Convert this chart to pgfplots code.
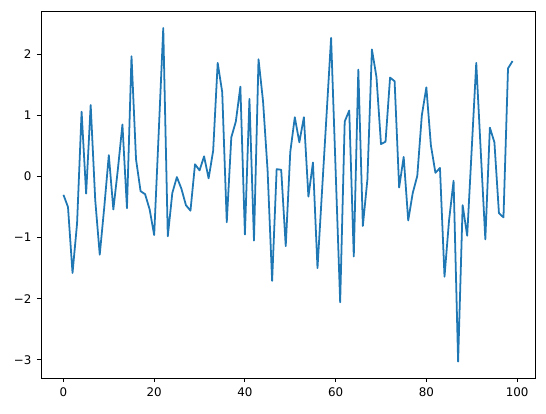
\documentclass[border=0pt]{standalone}
\usepackage{fontspec}
\setmainfont{DejaVu Sans}
\usepackage{pgfplots}
\usepackage{pgfplotstable}
\pgfplotsset{compat=1.18}
\definecolor{mplblue}{HTML}{1F77B4}
\pgfplotstableread{
x y
0 -0.30
1 -0.50
2 -1.58
3 -0.77
4 1.06
5 -0.28
6 1.17
7 -0.38
8 -1.28
9 -0.50
10 0.35
11 -0.54
12 0.12
13 0.85
14 -0.52
15 1.97
16 0.28
17 -0.24
18 -0.29
19 -0.54
20 -0.96
21 0.72
22 2.43
23 -0.98
24 -0.27
25 -0.01
26 -0.20
27 -0.47
28 -0.56
29 0.20
30 0.10
31 0.33
32 -0.03
33 0.42
34 1.86
35 1.38
36 -0.75
37 0.64
38 0.90
39 1.47
40 -0.95
41 1.27
42 -1.05
43 1.92
44 1.23
45 0.10
46 -1.71
47 0.12
48 0.11
49 -1.14
50 0.40
51 0.97
52 0.56
53 0.97
54 -0.33
55 0.23
56 -1.50
57 -0.24
58 1.01
59 2.27
60 0.10
61 -2.06
62 0.90
63 1.08
64 -1.31
65 1.75
66 -0.81
67 -0.05
68 2.08
69 1.63
70 0.53
71 0.57
72 1.62
73 1.56
74 -0.18
75 0.32
76 -0.72
77 -0.27
78 0.01
79 1.00
80 1.46
81 0.51
82 0.06
83 0.14
84 -1.64
85 -0.72
86 -0.07
87 -3.03
88 -0.47
89 -0.97
90 0.45
91 1.86
92 0.40
93 -1.03
94 0.80
95 0.56
96 -0.60
97 -0.67
98 1.77
99 1.89
}\datatable
\begin{document}
\begin{tikzpicture}
\begin{axis}[
  name=ax,
  scale only axis,
  width=370.5pt, height=275.25pt,
  xmin=-4.95, xmax=103.95,
  ymin=-3.30, ymax=2.71,
  axis line style={line width=0.71pt, black},
  every tick/.style={line width=0.71pt, black},
  tick align=outside,
  major tick length=3.1pt,
  xtick={0,20,40,60,80,100},
  xticklabels={0,20,40,60,80,100},
  ytick={-3,-2,-1,0,1,2},
  yticklabels={−3,−2,−1,0,1,2},
  xtick pos=bottom, ytick pos=left,
  tick label style={font=\fontsize{8.9}{10.7}\selectfont},
  xticklabel style={yshift=-0.5pt},
  yticklabel style={xshift=-0.5pt},
  /pgf/number format/assume math mode=true,
]
\addplot[mplblue, line width=1.33pt, line join=round] table[x=x,y=y] {\datatable};
\end{axis}
\pgfresetboundingbox
\path ([xshift=-30.75pt,yshift=-26.25pt]ax.south west) rectangle ([xshift=8.25pt,yshift=8.25pt]ax.north east);
\end{tikzpicture}
\end{document}
